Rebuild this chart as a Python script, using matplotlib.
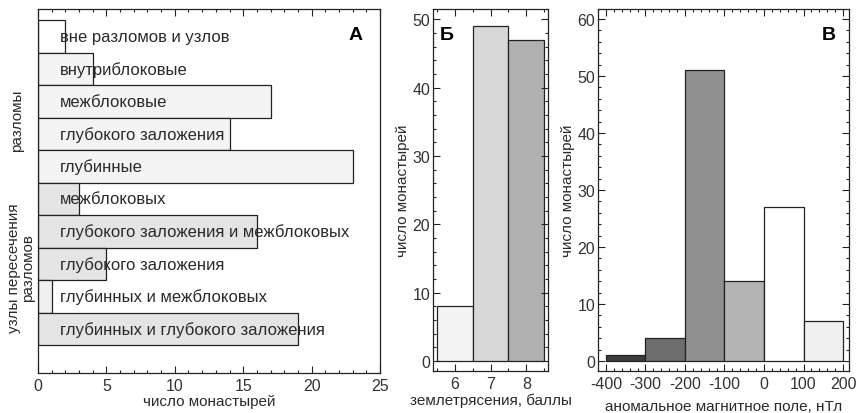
import matplotlib
matplotlib.use("Agg")
import matplotlib.pyplot as plt
from matplotlib.ticker import MultipleLocator

plt.rcParams['font.family'] = ['Liberation Sans', 'DejaVu Sans']
plt.rcParams['axes.unicode_minus'] = False

# Panel A data
a_labels = ["вне разломов и узлов", "внутриблоковые", "межблоковые", "глубокого заложения",
            "глубинные", "межблоковых", "глубокого заложения и межблоковых",
            "глубокого заложения", "глубинных и межблоковых", "глубинных и глубокого заложения"]
a_values = [2, 4, 17, 14, 23, 3, 16, 5, 1, 19]
a_colors = ["#ffffff", "#f4f4f4", "#f4f4f4", "#f4f4f4", "#f4f4f4",
            "#e4e4e4", "#e4e4e4", "#e4e4e4", "#f0f0f0", "#e4e4e4"]

# Panel Б data
b_cats = [6, 7, 8]
b_values = [8, 49, 47]
b_colors = ["#f4f4f4", "#d8d8d8", "#b0b0b0"]

# Panel В data
v_edges = [-400, -300, -200, -100, 0, 100]
v_values = [1, 4, 51, 14, 27, 7]
v_colors = ["#3c3c3c", "#6e6e6e", "#909090", "#b4b4b4", "#ffffff", "#f0f0f0"]

W, H = 857, 414
fig = plt.figure(figsize=(W / 100, H / 100), dpi=100)

def ax_px(l, t, r, b):
    return fig.add_axes([l / W, 1 - b / H, (r - l) / W, (b - t) / H])

edge = "#222222"
txt = "#2a2a2a"
fs = 12     # in-bar labels
lfs = 11    # axis labels
tfs = 11.5  # tick labels
lw = 0.9

def style(ax):
    for s in ax.spines.values():
        s.set_linewidth(lw)
        s.set_color(edge)
    ax.tick_params(which='both', direction='in', colors=edge, labelcolor='#333333',
                   labelsize=tfs, width=0.8)
    ax.tick_params(which='major', length=5)
    ax.tick_params(which='minor', length=2.5)

# ---------- Panel A ----------
axA = ax_px(38, 10, 380, 374)
ypos = list(range(len(a_values)))
axA.barh(ypos, a_values, height=1.0, color=a_colors, edgecolor=edge, linewidth=lw)
axA.set_xlim(0, 25)
axA.set_ylim(9.5 + 0.86, -0.5 - 0.34)
for y, t in zip(ypos, a_labels):
    axA.text(1.6, y, t, va='center', ha='left', fontsize=fs, color=txt)
style(axA)
axA.xaxis.set_major_locator(MultipleLocator(5))
axA.xaxis.set_minor_locator(MultipleLocator(1))
axA.tick_params(axis='x', which='both', top=True, bottom=True)
axA.set_yticks([])
axA.set_xlabel("число монастырей", fontsize=lfs, color=txt, labelpad=1)
axA.text(0.93, 0.93, "А", transform=axA.transAxes, fontsize=14, fontweight='bold',
         ha='center', va='center')
fig.text(17 / W, 1 - 121 / H, "разломы", rotation=90, ha='center', va='center',
         fontsize=lfs, color=txt)
fig.text(21 / W, 1 - 268 / H, "узлы пересечения\nразломов", rotation=90, ha='center',
         va='center', fontsize=lfs, color=txt, linespacing=0.95)

# ---------- Panel Б ----------
axB = ax_px(433, 10, 548, 372)
axB.bar(b_cats, b_values, width=1.0, color=b_colors, edgecolor=edge, linewidth=lw)
axB.set_xlim(5.4, 8.6)
axB.set_ylim(-1.46, 51.5)
style(axB)
axB.set_xticks(b_cats)
axB.xaxis.set_minor_locator(MultipleLocator(0.5))
axB.yaxis.set_major_locator(MultipleLocator(10))
axB.yaxis.set_minor_locator(MultipleLocator(2))
axB.tick_params(which='both', top=True, right=True)
axB.tick_params(axis='y', pad=2)
axB.set_xlabel("землетрясения, баллы", fontsize=lfs, color=txt, labelpad=1)
axB.set_ylabel("число монастырей", fontsize=lfs, color=txt, labelpad=2)
axB.text(0.12, 0.93, "Б", transform=axB.transAxes, fontsize=14, fontweight='bold',
         ha='center', va='center')

# ---------- Panel В ----------
axV = ax_px(598, 10, 849, 372)
axV.bar(v_edges, v_values, width=100, align='edge', color=v_colors, edgecolor=edge,
        linewidth=lw)
axV.set_xlim(-420, 215)
axV.set_ylim(-1.75, 61.75)
style(axV)
axV.xaxis.set_major_locator(MultipleLocator(100))
axV.xaxis.set_minor_locator(MultipleLocator(20))
axV.yaxis.set_major_locator(MultipleLocator(10))
axV.yaxis.set_minor_locator(MultipleLocator(2))
axV.tick_params(which='both', top=True, right=True)
axV.tick_params(axis='y', pad=2)
axV.set_xlabel("аномальное магнитное поле, нТл", fontsize=lfs, color=txt, labelpad=6)
axV.set_ylabel("число монастырей", fontsize=lfs, color=txt, labelpad=2)
axV.text(0.92, 0.93, "В", transform=axV.transAxes, fontsize=14, fontweight='bold',
         ha='center', va='center')

fig.savefig("out.png", dpi=100)
